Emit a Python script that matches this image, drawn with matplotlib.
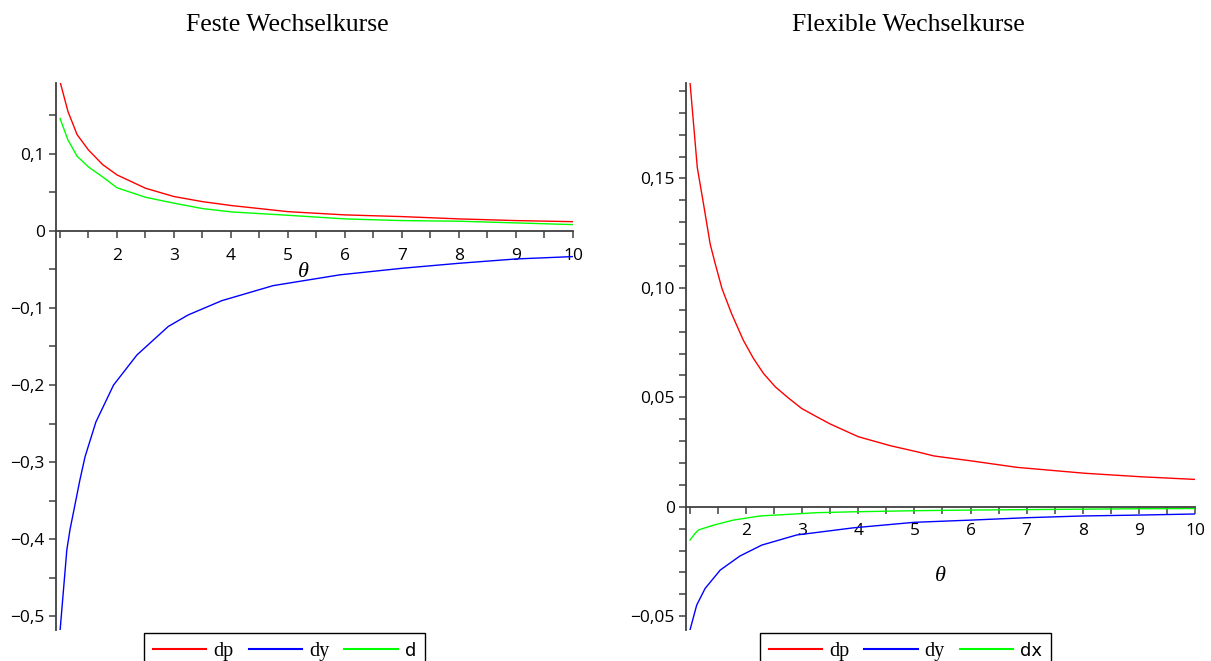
import numpy as np
import matplotlib.pyplot as plt
from matplotlib.ticker import MultipleLocator

# Feste Wechselkurse
fix_theta_dp = [1.0, 1.14, 1.3, 1.5, 1.75, 2.0, 2.5, 3.0, 3.5, 4.0, 5.0, 6.0, 7.0, 8.0, 9.0, 10.0]
fix_dp = [0.194, 0.155, 0.125, 0.105, 0.086, 0.0727, 0.0554, 0.0446, 0.038, 0.033, 0.025, 0.0208, 0.0186, 0.0156, 0.0134, 0.012]
fix_theta_d = [1.0, 1.14, 1.3, 1.5, 1.75, 2.0, 2.5, 3.0, 3.5, 4.0, 5.0, 6.0, 7.0, 8.0, 9.0, 10.0]
fix_d = [0.146, 0.118, 0.097, 0.083, 0.070, 0.056, 0.0437, 0.036, 0.029, 0.0247, 0.0203, 0.0156, 0.0134, 0.0126, 0.0104, 0.0082]
fix_theta_dy = [1.0, 1.12, 1.175, 1.35, 1.44, 1.63, 1.94, 2.35, 2.9, 3.25, 3.84, 4.74, 5.91, 7.0, 8.0, 9.0, 10.0]
fix_dy = [-0.52, -0.414, -0.388, -0.323, -0.293, -0.248, -0.2, -0.161, -0.124, -0.109, -0.0905, -0.071, -0.057, -0.0485, -0.042, -0.0364, -0.0333]

# Flexible Wechselkurse
flex_theta_dp = [1.0, 1.09, 1.13, 1.24, 1.36, 1.45, 1.57, 1.74, 1.95, 2.13, 2.31, 2.52, 2.73, 2.99, 3.26, 3.5,
                 4.0, 4.57, 5.05, 5.35, 6.0, 6.83, 8.04, 9.04, 10.0]
flex_dp = [0.194, 0.167, 0.155, 0.1385, 0.120, 0.111, 0.0997, 0.0883, 0.0761, 0.0678, 0.0609, 0.0548, 0.0502, 0.0449,
           0.0411, 0.0378, 0.032, 0.0279, 0.0251, 0.0232, 0.021, 0.018, 0.0153, 0.0137, 0.0125]
flex_theta_dy = [1.0, 1.12, 1.27, 1.54, 1.89, 2.28, 2.9, 3.92, 5.0, 6.0, 7.0, 8.0, 9.0, 10.0]
flex_dy = [-0.0563, -0.0449, -0.0373, -0.0289, -0.0225, -0.0175, -0.0129, -0.0096, -0.0071, -0.0061, -0.005, -0.0042,
           -0.0038, -0.0033]
flex_theta_dx = [1.0, 1.09, 1.15, 1.42, 1.77, 2.25, 2.73, 3.26, 3.92, 5.0, 6.0, 7.0, 8.0, 9.0, 10.0]
flex_dx = [-0.0152, -0.0122, -0.0106, -0.0084, -0.0061, -0.0042, -0.0035, -0.0027, -0.0023, -0.0018, -0.0015, -0.0013,
           -0.0011, -0.0009, -0.0008]

fix_yticks = [0.1, 0.0, -0.1, -0.2, -0.3, -0.4, -0.5]
fix_ylabels = ['0,1', '0', '−0,1', '−0,2', '−0,3', '−0,4', '−0,5']
flex_yticks = [0.15, 0.10, 0.05, 0.0, -0.05]
flex_ylabels = ['0,15', '0,10', '0,05', '0', '−0,05']
xticks = list(range(1, 11))
xlabels = [''] + [str(i) for i in range(2, 11)]

W, H = 1211, 661
fig = plt.figure(figsize=(W / 100, H / 100), dpi=100)
ax1 = fig.add_axes([56 / W, 31 / H, 517 / W, 547 / H])
ax2 = fig.add_axes([686 / W, 31 / H, 509 / W, 547 / H])


def style(ax, xlim, ylim, yticks, ylabels, yminor):
    ax.set_xlim(*xlim)
    ax.set_ylim(*ylim)
    ax.spines['top'].set_visible(False)
    ax.spines['right'].set_visible(False)
    ax.spines['bottom'].set_position(('data', 0))
    for s in ('left', 'bottom'):
        ax.spines[s].set_linewidth(1.3)
        ax.spines[s].set_color('#404040')
    ax.set_xticks(xticks, xlabels)
    ax.xaxis.set_minor_locator(MultipleLocator(0.5))
    ax.set_yticks(yticks, ylabels)
    ax.yaxis.set_minor_locator(MultipleLocator(yminor))
    ax.tick_params(which='both', direction='out', length=5, width=1.1, color='#404040')
    ax.tick_params(axis='x', pad=7)
    ax.tick_params(axis='y', pad=3)
    for lab in ax.get_xticklabels() + ax.get_yticklabels():
        lab.set_family('Open Sans')
        lab.set_fontsize(12.5)


style(ax1, (0.93, 10), (-0.518, 0.192), fix_yticks, fix_ylabels, 0.05)
style(ax2, (0.929, 10), (-0.0563, 0.1936), flex_yticks, flex_ylabels, 0.01)

ax1.plot(fix_theta_dp, fix_dp, color='#ff0000', lw=1.0, label='dp')
ax1.plot(fix_theta_dy, fix_dy, color='#0000ff', lw=1.0, label='dy')
ax1.plot(fix_theta_d, fix_d, color='#00ff00', lw=1.0, label='d')

ax2.plot(flex_theta_dp, flex_dp, color='#ff0000', lw=1.0, label='dp')
ax2.plot(flex_theta_dy, flex_dy, color='#0000ff', lw=1.0, label='dy')
ax2.plot(flex_theta_dx, flex_dx, color='#00ff00', lw=1.0, label='dx')

ax1.text(0.478, 0.654, 'θ', transform=ax1.transAxes, ha='center', va='center',
         family='Liberation Serif', style='italic', fontsize=16)
ax2.text(0.499, 0.097, 'θ', transform=ax2.transAxes, ha='center', va='center',
         family='Liberation Serif', style='italic', fontsize=16)

fig.text(287 / W, 1 - 25 / H, 'Feste Wechselkurse', ha='center', va='center',
         family='Liberation Serif', fontsize=18.5)
fig.text(908 / W, 1 - 25 / H, 'Flexible Wechselkurse', ha='center', va='center',
         family='Liberation Serif', fontsize=18.5)

for ax, cx, sans in ((ax1, 284.5, 'd'), (ax2, 905.5, 'dx')):
    leg = ax.legend(loc='upper center', bbox_to_anchor=(cx / W, 1 - 633 / H),
                    bbox_transform=fig.transFigure, ncol=3, fontsize=14.5,
                    frameon=True, fancybox=False, edgecolor='black', framealpha=1,
                    handlelength=2.65, handletextpad=0.35, columnspacing=0.75,
                    borderpad=0.45, borderaxespad=0)
    leg.get_frame().set_linewidth(1.0)
    for t in leg.get_texts():
        if t.get_text() == sans:
            t.set_family('DejaVu Sans')
            t.set_fontsize(13)
        else:
            t.set_family('Liberation Serif')
    for h in leg.get_lines():
        h.set_linewidth(1.5)

fig.savefig('out.png', dpi=100)
